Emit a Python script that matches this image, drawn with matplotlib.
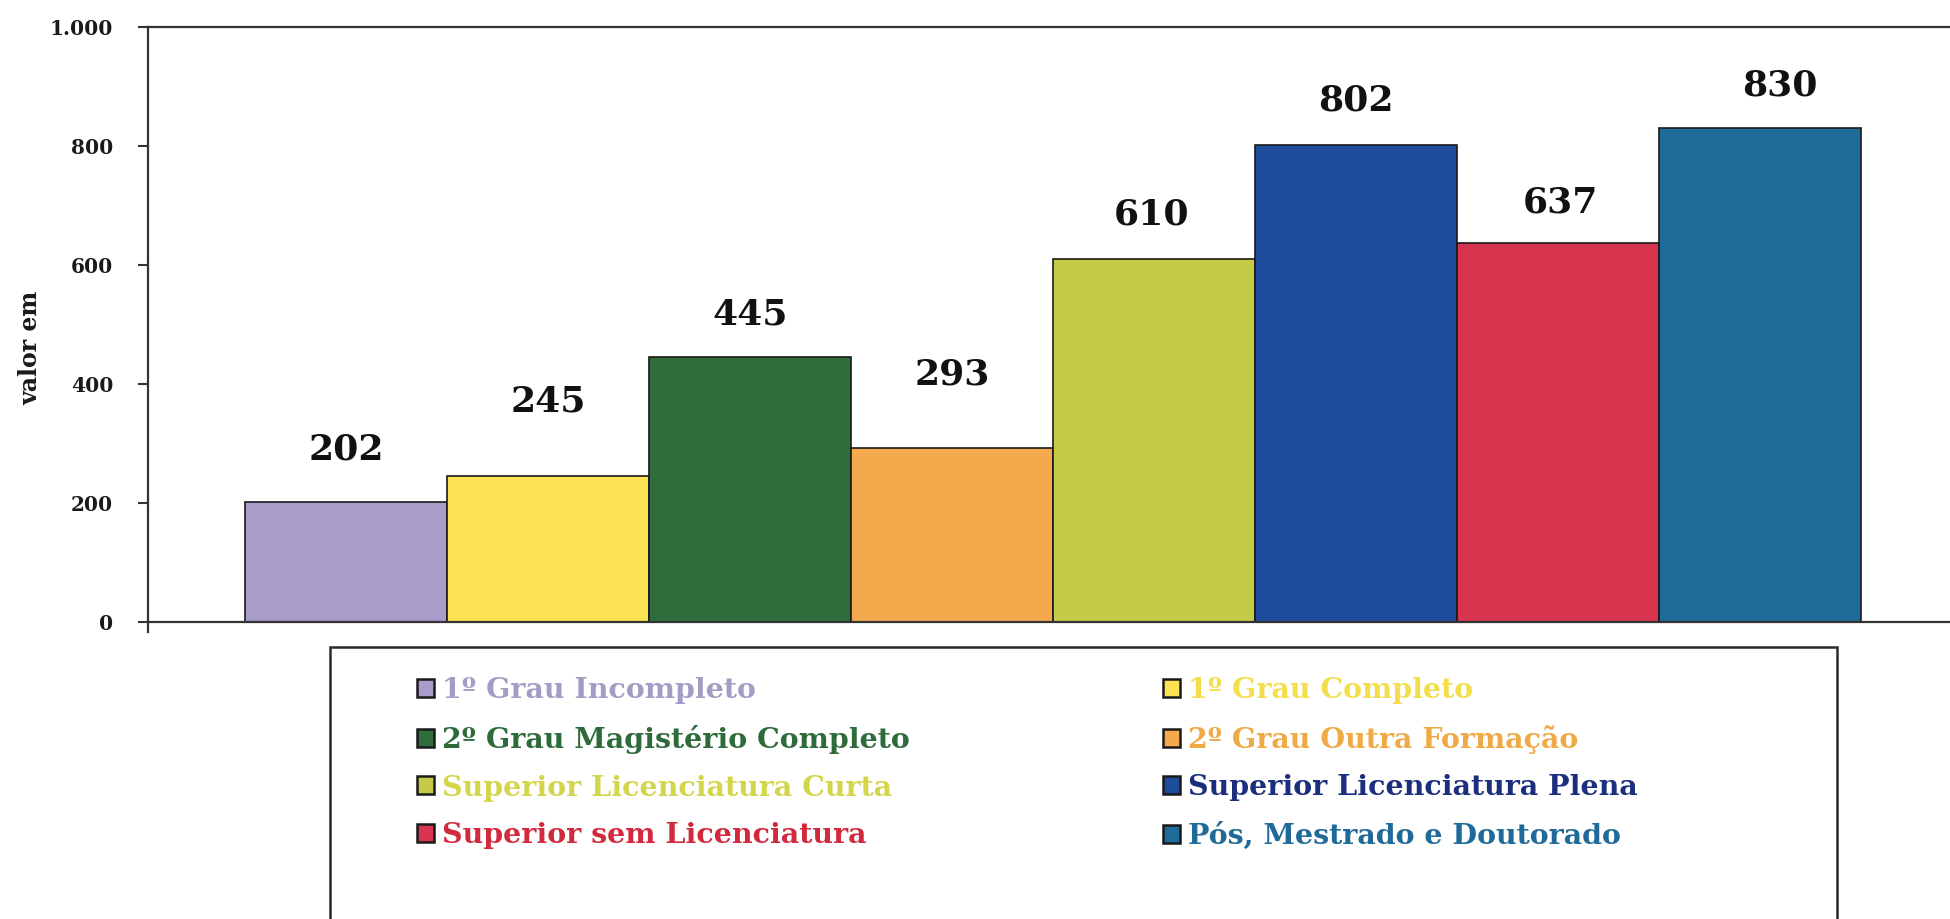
import matplotlib
matplotlib.use("Agg")
import matplotlib.pyplot as plt
from matplotlib.patches import Patch, Rectangle

# ---------------- data ----------------
categories = [
    "1º Grau Incompleto",
    "1º Grau Completo",
    "2º Grau Magistério Completo",
    "2º Grau Outra Formação",
    "Superior Licenciatura Curta",
    "Superior Licenciatura Plena",
    "Superior sem Licenciatura",
    "Pós, Mestrado e Doutorado",
]
values = [202, 245, 445, 293, 610, 802, 637, 830]
ytick_values = [0, 200, 400, 600, 800, 1000]
ytick_labels = ["0", "200", "400", "600", "800", "1.000"]
ylabel_text = "valor em"

# ---------------- style ----------------
bar_colors = ["#A99CCB", "#FBE353", "#2F6E3C", "#F4A94C",
              "#C6CB47", "#1F4D9E", "#D7344F", "#1F6B9A"]
text_colors = ["#A59CC6", "#F4DE4C", "#2E6B3A", "#EFAA45",
               "#D3D54B", "#1C2E7E", "#D2293C", "#1F6A98"]
# offsets (points) of each value label from the top centre of its bar
label_dy = [38, 54, 31, 53, 32, 32, 29, 31]
label_dx = [0, 0, 0, 0, -2, 0, 2, 14]

FONT = ["DejaVu Serif", "Liberation Serif"]
W, H, DPI = 1950, 919, 100

fig = plt.figure(figsize=(W / DPI, H / DPI), dpi=DPI, facecolor="white")

# axes placement in pixels
ax_left, ax_right, ax_top, ax_bottom = 148, 1950, 27, 622
ax = fig.add_axes([ax_left / W, 1 - ax_bottom / H,
                   (ax_right - ax_left) / W, (ax_bottom - ax_top) / H])

x = list(range(len(values)))
bars = ax.bar(x, values, width=1.0, color=bar_colors,
              edgecolor="#1a1a1a", linewidth=1.2, zorder=2)

ax.set_xlim(-0.98, 7.94)
ax.set_ylim(0, 1000)
ax.set_yticks(ytick_values)
ax.set_yticklabels(ytick_labels, fontfamily=FONT, fontweight="bold",
                   fontsize=14.5, color="#1a1a1a")
ax.set_xticks([])
ax.tick_params(axis="y", direction="out", length=7, width=1.5,
               color="#333333", pad=18)

for side in ["left", "bottom", "top"]:
    ax.spines[side].set_color("#333333")
    ax.spines[side].set_linewidth(1.6)
ax.spines["right"].set_visible(False)
ax.spines["left"].set_bounds(-17, 1000)

ax.set_ylabel(ylabel_text, fontfamily=FONT, fontweight="bold",
              fontsize=17, color="#1a1a1a", va="center")
ax.yaxis.set_label_coords((30 - ax_left) / (ax_right - ax_left),
                          (ax_bottom - 348) / (ax_bottom - ax_top))

for xi, v, dx, dy in zip(x, values, label_dx, label_dy):
    ax.annotate(str(v), xy=(xi, v), xytext=(dx, dy),
                textcoords="offset points", ha="center", va="center",
                fontfamily=FONT, fontweight="bold", fontsize=26,
                color="#111111")

# ---------------- legend ----------------
order = [0, 2, 4, 6, 1, 3, 5, 7]
handles = [Patch(facecolor=bar_colors[i], edgecolor="#1a1a1a", linewidth=1.8)
           for i in order]
labels = [categories[i] for i in order]
leg_fs = 20.5
fs_px = leg_fs * DPI / 72.0

col1_x, col2_x = 417, 1163          # handle left edges (px)
row1_y, row_pitch = 691, 48.5       # row centres (px from top)
hsize = 17                          # handle size (px)


def make_legend(colsp, lsp, top_px):
    lg = fig.legend(handles, labels, ncol=2, loc="upper left",
                    bbox_to_anchor=(col1_x / W, 1 - top_px / H),
                    bbox_transform=fig.transFigure,
                    frameon=False, borderpad=0, borderaxespad=0,
                    handlelength=hsize / fs_px, handleheight=hsize / fs_px,
                    handletextpad=8 / fs_px, labelspacing=lsp,
                    columnspacing=colsp,
                    prop={"family": FONT, "weight": "bold", "size": leg_fs})
    for t, i in zip(lg.get_texts(), order):
        t.set_color(text_colors[i])
    return lg


colsp, lsp, top_px = 2.0, 0.5, row1_y - 18
for _ in range(3):
    leg = make_legend(colsp, lsp, top_px)
    fig.canvas.draw()
    r = fig.canvas.get_renderer()
    texts = leg.get_texts()
    ext = [t.get_window_extent(r) for t in texts]
    pitch = (ext[0].y0 + ext[0].y1) / 2 - (ext[1].y0 + ext[1].y1) / 2
    first_c = H - (ext[0].y0 + ext[0].y1) / 2
    h_ext = [h.get_window_extent(r) for h in leg.legend_handles]
    col2_left = min(e.x0 for e in h_ext[4:])
    leg.remove()
    colsp += (col2_x - col2_left) / fs_px
    lsp += (row_pitch - pitch) / fs_px
    top_px += row1_y - first_c

leg = make_legend(colsp, lsp, top_px)

# legend frame (extends past the bottom of the picture)
frame = Rectangle((330 / W, -0.05), (1837 - 330) / W, (1 - 647 / H) + 0.05,
                  transform=fig.transFigure, fill=False,
                  edgecolor="#2a2a2a", linewidth=1.8)
fig.add_artist(frame)

fig.savefig("out.png", dpi=DPI, facecolor="white")
